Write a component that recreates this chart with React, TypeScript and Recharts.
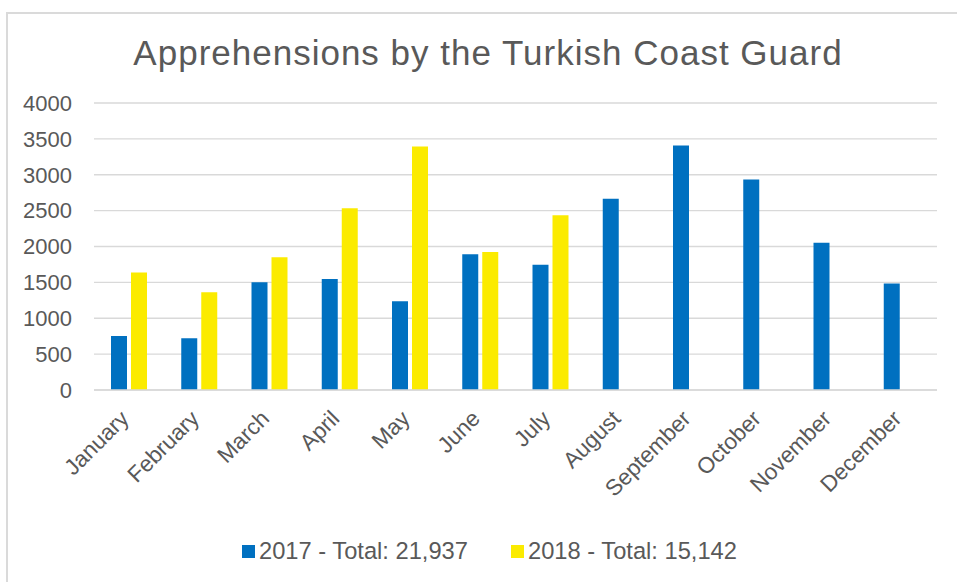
import {Bar, BarChart, CartesianGrid, Legend, XAxis, YAxis} from 'recharts'

document.body.style.margin = '0'

const months = ['January', 'February', 'March', 'April', 'May', 'June', 'July', 'August', 'September', 'October', 'November', 'December']
const values2017 = [753, 721, 1502, 1548, 1237, 1893, 1744, 2664, 3408, 2933, 2051, 1483]
const values2018 = [1638, 1363, 1851, 2534, 3394, 1925, 2437, null, null, null, null, null]
const yTicks = [0, 500, 1000, 1500, 2000, 2500, 3000, 3500, 4000]
const label2017 = '2017 - Total: 21,937'
const label2018 = '2018 - Total: 15,142'

const data = months.map((m, i) => ({
    month: m,
    a: values2017[i],
    b: values2018[i],
}))

const font = '"Liberation Sans", Arial, sans-serif'
const grey = '#595959'

const MonthTick = (props: any) => {
    const {x, y, payload} = props
    return (
        <g transform={`translate(${x + 1},${y + 30})`}>
            <text textAnchor="end" transform="rotate(-45)" fill={grey} fontSize={22.5} fontFamily={font}>
                {payload.value}
            </text>
        </g>
    )
}

const LegendRow = (props: any) => {
    const items = props.payload || []
    return (
        <div style={{display: 'flex', alignItems: 'center', height: 40, paddingLeft: 242, fontFamily: font}}>
            {items.map((item: any, i: number) => (
                <div key={i} style={{display: 'flex', alignItems: 'center', width: i === 0 ? 269 : 'auto'}}>
                    <span style={{width: 13, height: 13, background: item.color, display: 'inline-block', marginRight: 4}} />
                    <span style={{fontSize: 23.7, color: grey}}>{item.value}</span>
                </div>
            ))}
        </div>
    )
}

const App = () => {
    return (
        <div style={{position: 'relative', width: 957, height: 582, overflow: 'hidden', background: '#fff'}}>
            <div style={{position: 'absolute', left: 6, top: 12, width: 1000, height: 700, border: '2px solid #DADADA'}} />
            <div
                style={{
                    position: 'absolute',
                    left: 488,
                    top: 33,
                    transform: 'translateX(-50%)',
                    whiteSpace: 'nowrap',
                    fontFamily: font,
                    fontSize: 35,
                    letterSpacing: 1,
                    color: grey,
                }}
            >
                Apprehensions by the Turkish Coast Guard
            </div>
            <div style={{position: 'absolute', left: 0, top: 0}}>
                <BarChart
                    width={957}
                    height={582}
                    data={data}
                    margin={{top: 103, right: 20, bottom: 11, left: 0}}
                    barSize={16}
                    barGap={4}
                >
                    <CartesianGrid vertical={false} stroke="#D9D9D9" strokeWidth={1.4} />
                    <XAxis
                        dataKey="month"
                        interval={0}
                        height={141}
                        tickLine={false}
                        tickSize={0}
                        tickMargin={0}
                        axisLine={{stroke: '#D9D9D9', strokeWidth: 1.6}}
                        tick={<MonthTick />}
                    />
                    <YAxis
                        width={94}
                        domain={[0, 4000]}
                        ticks={yTicks}
                        axisLine={false}
                        tickLine={false}
                        tickSize={0}
                        tickMargin={22}
                        tick={{fill: grey, fontSize: 22, fontFamily: font}}
                    />
                    <Legend
                        verticalAlign="bottom"
                        height={40}
                        content={<LegendRow />}
                        wrapperStyle={{left: 0, width: 957}}
                    />
                    <Bar dataKey="a" name={label2017} fill="#0070C0" isAnimationActive={false} />
                    <Bar dataKey="b" name={label2018} fill="#FBEB00" isAnimationActive={false} />
                </BarChart>
            </div>
        </div>
    )
}

export default App
